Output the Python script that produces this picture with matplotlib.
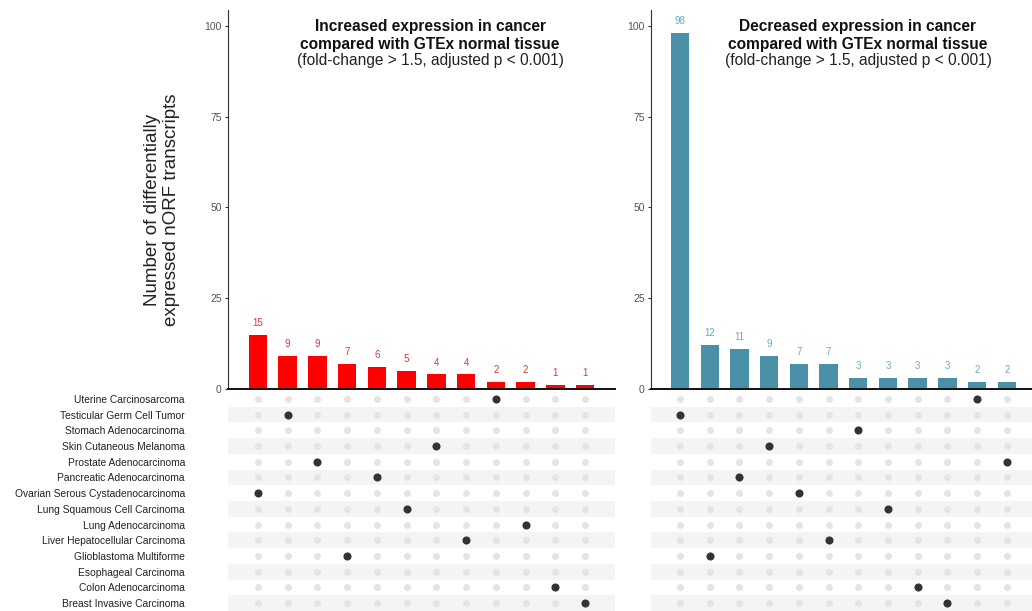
import matplotlib
matplotlib.use("Agg")
import matplotlib.pyplot as plt
from matplotlib.patches import Rectangle

plt.rcParams['font.family'] = ['Liberation Sans', 'DejaVu Sans']

# Cancer types, listed top to bottom in the dot matrix
tissues = [
    "Uterine Carcinosarcoma",
    "Testicular Germ Cell Tumor",
    "Stomach Adenocarcinoma",
    "Skin Cutaneous Melanoma",
    "Prostate Adenocarcinoma",
    "Pancreatic Adenocarcinoma",
    "Ovarian Serous Cystadenocarcinoma",
    "Lung Squamous Cell Carcinoma",
    "Lung Adenocarcinoma",
    "Liver Hepatocellular Carcinoma",
    "Glioblastoma Multiforme",
    "Esophageal Carcinoma",
    "Colon Adenocarcinoma",
    "Breast Invasive Carcinoma",
]

# Up-regulated nORF transcripts per cancer type
up_tissues = [
    "Ovarian Serous Cystadenocarcinoma", "Testicular Germ Cell Tumor",
    "Prostate Adenocarcinoma", "Glioblastoma Multiforme",
    "Pancreatic Adenocarcinoma", "Lung Squamous Cell Carcinoma",
    "Skin Cutaneous Melanoma", "Liver Hepatocellular Carcinoma",
    "Uterine Carcinosarcoma", "Lung Adenocarcinoma",
    "Colon Adenocarcinoma", "Breast Invasive Carcinoma",
]
up_counts = [15, 9, 9, 7, 6, 5, 4, 4, 2, 2, 1, 1]

# Down-regulated nORF transcripts per cancer type
down_tissues = [
    "Testicular Germ Cell Tumor", "Glioblastoma Multiforme",
    "Pancreatic Adenocarcinoma", "Skin Cutaneous Melanoma",
    "Ovarian Serous Cystadenocarcinoma", "Liver Hepatocellular Carcinoma",
    "Stomach Adenocarcinoma", "Lung Squamous Cell Carcinoma",
    "Colon Adenocarcinoma", "Breast Invasive Carcinoma",
    "Uterine Carcinosarcoma", "Prostate Adenocarcinoma",
]
down_counts = [98, 12, 11, 9, 7, 7, 3, 3, 3, 3, 2, 2]

yticks = [0, 25, 50, 75, 100]

W, H = 1032, 611
fig = plt.figure(figsize=(W / 100, H / 100), dpi=100)


def fx(px):
    return px / W


def fy(py):
    return 1 - py / H


panels = [
    dict(x0=228, x1=615, xlim=(-1.0, 12.0), names=up_tissues, counts=up_counts,
         bar="#ff0000", lab="#d63a3a", title_x=5.79,
         title1="Increased expression in cancer",
         title2="compared with GTEx normal tissue",
         row_labels=True),
    dict(x0=651, x1=1032, xlim=(-0.98, 11.85), names=down_tissues, counts=down_counts,
         bar="#4a90a8", lab="#6aaac4", title_x=5.99,
         title1="Decreased expression in cancer",
         title2="compared with GTEx normal tissue",
         row_labels=False),
]

subtitle = "(fold-change > 1.5, adjusted p < 0.001)"

bar_top, bar_bot = 10, 389
mat_top, mat_bot = 391, 611
n_rows = len(tissues)

for p in panels:
    # bar chart
    ax = fig.add_axes([fx(p["x0"]), fy(bar_bot), fx(p["x1"] - p["x0"]),
                       (bar_bot - bar_top) / H])
    xs = list(range(len(p["counts"])))
    ax.bar(xs, p["counts"], width=0.62, color=p["bar"], zorder=2)
    for x, v in zip(xs, p["counts"]):
        ax.annotate(str(v), (x, v), xytext=(0, 5), textcoords="offset points",
                    ha="center", va="bottom", fontsize=7, color=p["lab"])
    ax.set_xlim(*p["xlim"])
    ax.set_ylim(0, 104.4)
    ax.set_yticks(yticks)
    ax.set_yticklabels([str(t) for t in yticks], fontsize=7.5, color="#555555")
    ax.set_xticks([])
    for s in ("top", "right"):
        ax.spines[s].set_visible(False)
    ax.spines["left"].set_color("#333333")
    ax.spines["left"].set_linewidth(0.8)
    ax.spines["bottom"].set_color("#111111")
    ax.spines["bottom"].set_linewidth(1.4)
    ax.tick_params(axis="y", length=2.5, width=0.8, color="#333333", pad=2)
    ax.patch.set_alpha(0)

    # three-line panel heading
    for text, ypix, weight, col in [(p["title1"], 27, "bold", "#111111"),
                                    (p["title2"], 44, "bold", "#111111"),
                                    (subtitle, 61, "normal", "#222222")]:
        ax.annotate(text, (p["title_x"], H - ypix),
                    xycoords=("data", "figure pixels"),
                    ha="center", va="center", fontsize=11.2,
                    fontweight=weight, color=col)

    # dot matrix
    mx = fig.add_axes([fx(p["x0"]), fy(mat_bot), fx(p["x1"] - p["x0"]),
                       (mat_bot - mat_top) / H])
    mx.set_xlim(*p["xlim"])
    mx.set_ylim(n_rows - 0.5, -0.5)
    for r in range(n_rows):
        if r % 2 == 1:
            mx.add_patch(Rectangle((p["xlim"][0], r - 0.5),
                                   p["xlim"][1] - p["xlim"][0], 1,
                                   color="#f4f4f4", lw=0, zorder=0))
    gx = [x for x in xs for _ in range(n_rows)]
    gy = [r for _ in xs for r in range(n_rows)]
    mx.scatter(gx, gy, s=25, color="#e4e4e4", lw=0, zorder=1)
    on_y = [tissues.index(t) for t in p["names"]]
    mx.scatter(xs, on_y, s=34, color="#333333", lw=0, zorder=2)
    mx.set_xticks([])
    if p["row_labels"]:
        mx.set_yticks(range(n_rows))
        mx.set_yticklabels(tissues, fontsize=7.4, color="#222222")
        mx.tick_params(axis="y", length=0, pad=31)
    else:
        mx.set_yticks([])
    for s in mx.spines.values():
        s.set_visible(False)

fig.text(fx(162), fy(210), "Number of differentially\nexpressed nORF transcripts",
         rotation=90, ha="center", va="center", fontsize=13.5, color="#222222",
         linespacing=1.1)

fig.savefig("out.png", dpi=100)
